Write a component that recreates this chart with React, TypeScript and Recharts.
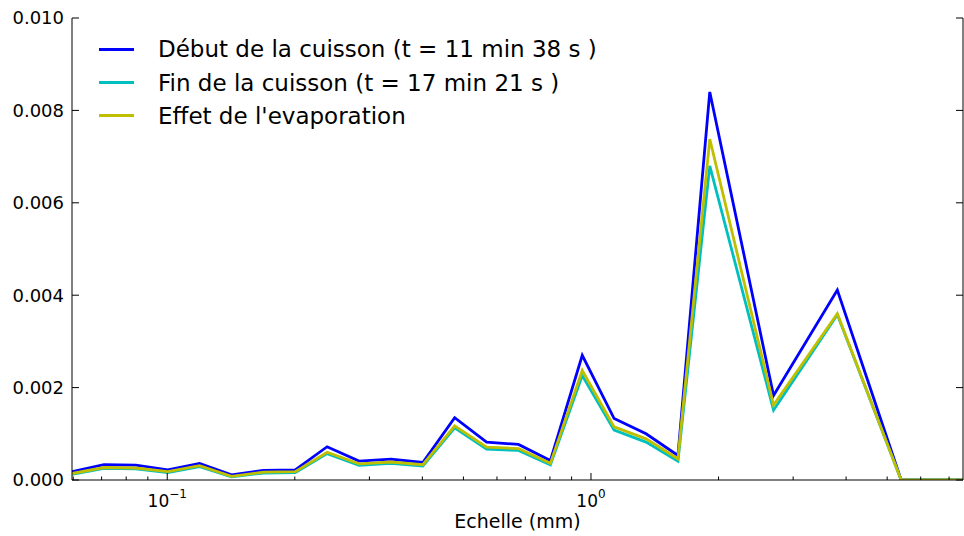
import React from 'react';
import { LineChart, Line, XAxis, YAxis, Legend } from 'recharts';

// Scale (mm)
const scales = [
  0.0596, 0.0709, 0.0843, 0.1003, 0.1192, 0.1418, 0.1686, 0.2005, 0.2384, 0.2836,
  0.3372, 0.401, 0.4768, 0.5671, 0.6744, 0.802, 0.9537, 1.134, 1.349, 1.604,
  1.907, 2.697, 3.814, 5.394, 7.63,
];

const debut = [
  0.00018, 0.00033, 0.00032, 0.00022, 0.00036, 0.00011, 0.00021, 0.00022, 0.00072, 0.00041,
  0.00045, 0.00038, 0.00135, 0.00082, 0.00077, 0.00042, 0.0027, 0.00133, 0.001, 0.00053,
  0.0084, 0.00183, 0.00411, 0, 0,
];

const fin = [
  0.00012, 0.00025, 0.00024, 0.00016, 0.00029, 0.00007, 0.00015, 0.00016, 0.00057, 0.00032,
  0.00036, 0.0003, 0.00113, 0.00067, 0.00064, 0.00033, 0.00226, 0.00108, 0.00082, 0.00041,
  0.0068, 0.00151, 0.00358, 0, 0,
];

const evaporation = [
  0.00014, 0.00027, 0.00026, 0.00018, 0.00031, 0.00008, 0.00017, 0.00018, 0.0006, 0.00035,
  0.00039, 0.00033, 0.00117, 0.00071, 0.00068, 0.00036, 0.00237, 0.00115, 0.00089, 0.00046,
  0.00738, 0.00162, 0.0036, 0, 0,
];

const seriesNames = [
  'Début de la cuisson (t = 11 min 38 s )',
  'Fin de la cuisson (t = 17 min 21 s )',
  "Effet de l'evaporation",
];
const seriesColors = ['#0000ff', '#00bfbf', '#bfbf00'];

const xTicks = [
  0.06, 0.07, 0.08, 0.09, 0.1, 0.2, 0.3, 0.4, 0.5, 0.6, 0.7, 0.8, 0.9, 1, 2, 3, 4, 5, 6, 7,
];
const xMajor: Record<string, string> = { '0.1': '−1', '1': '0' };
const yTicks = [0, 0.002, 0.004, 0.006, 0.008, 0.01];
const yTickLabels = ['0.000', '0.002', '0.004', '0.006', '0.008', '0.010'];

const data = scales.map((s, i) => ({
  x: s,
  debut: debut[i],
  fin: fin[i],
  evap: evaporation[i],
}));

const FONT = 'DejaVu Sans, Verdana, sans-serif';

const BottomTick = (props: any) => {
  const { x, y, payload } = props;
  const exp = xMajor[String(payload.value)];
  const len = exp !== undefined ? 7 : 3.5;
  return (
    <g>
      <line x1={x} y1={y} x2={x} y2={y - len} stroke="#000" strokeWidth={1} />
      {exp !== undefined && (
        <text x={x} y={y + 27} textAnchor="middle" fontFamily={FONT} fontSize={17} fill="#000">
          <tspan>10</tspan>
          <tspan dy={-9} fontSize={12}>{exp}</tspan>
        </text>
      )}
    </g>
  );
};

const TopTick = (props: any) => {
  const { x, y, payload } = props;
  const exp = xMajor[String(payload.value)];
  const len = exp !== undefined ? 7 : 3.5;
  return <line x1={x} y1={y} x2={x} y2={y + len} stroke="#000" strokeWidth={1} />;
};

const LeftTick = (props: any) => {
  const { x, y, payload, index } = props;
  const label = yTickLabels[yTicks.indexOf(payload.value)] ?? String(index);
  return (
    <g>
      <line x1={x} y1={y} x2={x + 7} y2={y} stroke="#000" strokeWidth={1} />
      <text x={x - 8} y={y} dy="0.36em" textAnchor="end" fontFamily={FONT} fontSize={18} fill="#000">
        {label}
      </text>
    </g>
  );
};

const RightTick = (props: any) => {
  const { x, y } = props;
  return <line x1={x} y1={y} x2={x - 7} y2={y} stroke="#000" strokeWidth={1} />;
};

const LegendContent = () => (
  <div style={{ fontFamily: FONT, fontSize: 23, color: '#000' }}>
    {seriesNames.map((n, i) => (
      <div key={n} style={{ display: 'flex', alignItems: 'center', height: 33.4, whiteSpace: 'nowrap' }}>
        <span style={{ display: 'inline-block', width: 35, height: 3, background: seriesColors[i], marginRight: 24 }} />
        <span>{n}</span>
      </div>
    ))}
  </div>
);

export default function App() {
  return (
    <div style={{ position: 'absolute', left: 0, top: 0, width: 964, height: 536, background: '#fff' }}>
      <LineChart width={964} height={536} data={data} margin={{ top: 18, right: 0, left: 0, bottom: 0 }}>
        <XAxis
          xAxisId="b"
          dataKey="x"
          type="number"
          scale="log"
          domain={[0.0596, 7.55]}
          allowDataOverflow
          ticks={xTicks}
          interval={0}
          height={56}
          tickSize={0}
          tickMargin={0}
          tickLine={false}
          axisLine={{ stroke: '#000', strokeWidth: 1 }}
          tick={<BottomTick />}
          label={{ value: 'Echelle (mm)', position: 'insideBottom', offset: 8, style: { fontFamily: FONT, fontSize: 19, fill: '#000' } }}
        />
        <XAxis
          xAxisId="t"
          dataKey="x"
          type="number"
          scale="log"
          orientation="top"
          domain={[0.0596, 7.55]}
          allowDataOverflow
          ticks={xTicks}
          interval={0}
          height={0}
          tickSize={0}
          tickMargin={0}
          tickLine={false}
          axisLine={{ stroke: '#000', strokeWidth: 1 }}
          tick={<TopTick />}
        />
        <YAxis
          yAxisId="l"
          type="number"
          domain={[0, 0.01]}
          allowDataOverflow
          ticks={yTicks}
          interval={0}
          width={72}
          tickSize={0}
          tickMargin={0}
          tickLine={false}
          axisLine={{ stroke: '#000', strokeWidth: 1 }}
          tick={<LeftTick />}
        />
        <YAxis
          yAxisId="r"
          orientation="right"
          type="number"
          domain={[0, 0.01]}
          allowDataOverflow
          ticks={yTicks}
          interval={0}
          width={1}
          tickSize={0}
          tickMargin={0}
          tickLine={false}
          axisLine={{ stroke: '#000', strokeWidth: 1 }}
          tick={<RightTick />}
        />
        <Legend
          layout="horizontal"
          verticalAlign="middle"
          align="center"
          content={<LegendContent />}
          wrapperStyle={{ position: 'absolute', left: 99, top: 32.5, width: 640, height: 100 }}
        />
        <Line xAxisId="b" yAxisId="l" dataKey="debut" name={seriesNames[0]} stroke={seriesColors[0]} strokeWidth={2.8} dot={false} isAnimationActive={false} strokeLinejoin="miter" />
        <Line xAxisId="b" yAxisId="l" dataKey="fin" name={seriesNames[1]} stroke={seriesColors[1]} strokeWidth={2.8} dot={false} isAnimationActive={false} strokeLinejoin="miter" />
        <Line xAxisId="b" yAxisId="l" dataKey="evap" name={seriesNames[2]} stroke={seriesColors[2]} strokeWidth={2.8} dot={false} isAnimationActive={false} strokeLinejoin="miter" />
      </LineChart>
    </div>
  );
}
